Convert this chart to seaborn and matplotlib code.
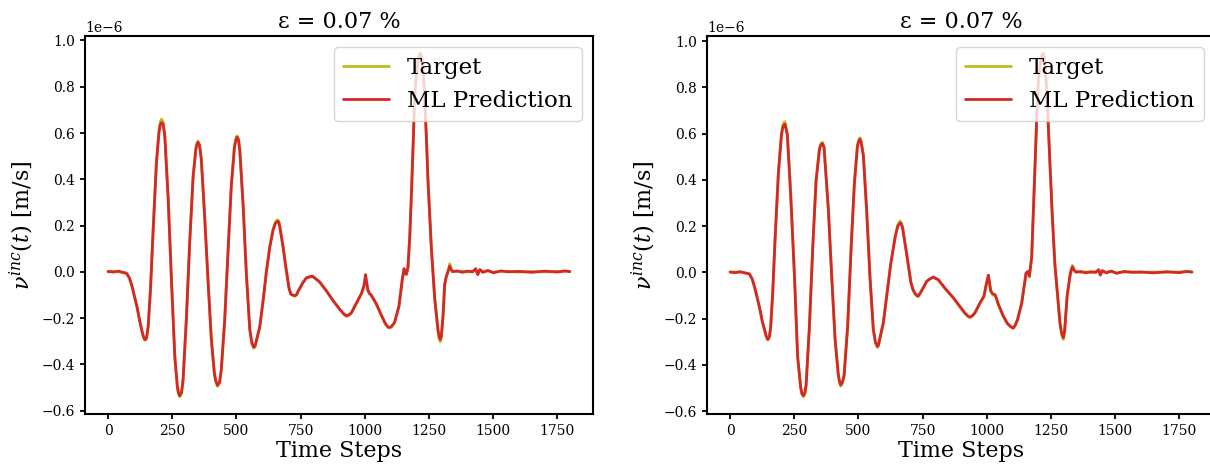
import numpy as np
import matplotlib
matplotlib.use("Agg")
import matplotlib.pyplot as plt
import seaborn as sns

# ---------------- data (values in units of 1e-6 m/s) ----------------
left_time = [0, 20, 40, 60, 72, 84, 94, 104, 114, 123, 133, 138, 143, 147, 150, 156, 165, 175, 188, 198, 203, 208, 214,
             221, 234, 247, 260, 270, 275, 279, 286, 292, 305, 318, 331, 342, 346, 350, 356, 363, 376, 389, 402, 414, 420, 426,
             434, 441, 454, 467, 480, 492, 497, 502, 508, 513, 526, 539, 552, 560, 567, 572, 578, 591, 604, 617, 630,
             643, 652, 659, 664, 668, 681, 694, 705, 712, 720, 727, 734, 740, 759, 772, 785, 795, 805, 824, 850,
             876, 902, 918, 928, 938, 948, 967, 987, 996, 1000, 1003, 1006, 1012, 1018, 1025, 1045, 1064, 1080, 1090, 1097,
             1104, 1116, 1133, 1146, 1153, 1157, 1162, 1168, 1175, 1181, 1188, 1194, 1201, 1208, 1214, 1218, 1222, 1228, 1233, 1240,
             1246, 1259, 1272, 1285, 1290, 1294, 1298, 1305, 1311, 1316, 1324, 1331, 1336, 1341, 1360, 1380, 1400, 1420, 1432, 1440,
             1448, 1460, 1480, 1500, 1530, 1560, 1600, 1650, 1700, 1750, 1780, 1799]
left_target = [0.000, 0.002, 0.000, -0.002, -0.008, -0.030, -0.065, -0.110, -0.160, -0.210, -0.262, -0.283, -0.295, -0.293, -0.285, -0.240, -0.080, 0.170, 0.470, 0.610, 0.648, 0.660, 0.650,
               0.590, 0.320, -0.040, -0.370, -0.500, -0.530, -0.540, -0.525, -0.470, -0.200, 0.130, 0.410, 0.535, 0.555, 0.565, 0.550, 0.490, 0.245, -0.030, -0.290, -0.440, -0.476, -0.495,
               -0.480, -0.425, -0.215, 0.085, 0.375, 0.540, 0.572, 0.588, 0.575, 0.530, 0.290, -0.015, -0.250, -0.310, -0.330, -0.325, -0.300, -0.240, -0.125, 0.005, 0.110,
               0.185, 0.215, 0.225, 0.222, 0.205, 0.115, 0.010, -0.070, -0.095, -0.102, -0.105, -0.098, -0.086, -0.045, -0.028, -0.020, -0.020, -0.025, -0.045, -0.080,
               -0.125, -0.160, -0.183, -0.192, -0.188, -0.178, -0.138, -0.095, -0.065, -0.040, -0.015, -0.040, -0.080, -0.092, -0.102, -0.140, -0.188, -0.225, -0.240, -0.242,
               -0.238, -0.220, -0.150, -0.035, 0.012, -0.005, -0.012, 0.020, 0.150, 0.320, 0.540, 0.750, 0.860, 0.920, 0.942, 0.945, 0.930, 0.860, 0.760, 0.580,
               0.400, 0.110, -0.110, -0.255, -0.290, -0.302, -0.285, -0.190, -0.060, -0.030, 0.000, 0.035, 0.015, 0.004, 0.001, 0.003, -0.001, 0.004, 0.010, -0.010,
               0.008, 0.002, 0.004, -0.002, 0.002, 0.003, -0.001, 0.002, 0.000, 0.002, 0.003, 0.002]
left_pred = [0.002, -0.001, 0.003, -0.003, -0.006, -0.028, -0.066, -0.112, -0.158, -0.212, -0.260, -0.281, -0.293, -0.291, -0.283, -0.238, -0.078, 0.168, 0.465, 0.600, 0.634, 0.645, 0.640,
             0.585, 0.318, -0.042, -0.368, -0.498, -0.526, -0.535, -0.522, -0.468, -0.202, 0.128, 0.408, 0.530, 0.550, 0.560, 0.548, 0.487, 0.243, -0.032, -0.288, -0.438, -0.472, -0.490,
             -0.478, -0.422, -0.212, 0.083, 0.372, 0.535, 0.566, 0.582, 0.570, 0.526, 0.287, -0.017, -0.248, -0.306, -0.325, -0.322, -0.295, -0.236, -0.122, 0.003, 0.108,
             0.182, 0.210, 0.218, 0.216, 0.200, 0.112, 0.008, -0.072, -0.097, -0.100, -0.103, -0.100, -0.084, -0.047, -0.026, -0.022, -0.018, -0.027, -0.043, -0.082,
             -0.123, -0.162, -0.181, -0.190, -0.186, -0.176, -0.136, -0.093, -0.063, -0.038, -0.012, -0.038, -0.078, -0.094, -0.100, -0.138, -0.186, -0.223, -0.238, -0.240,
             -0.236, -0.218, -0.148, -0.033, 0.014, -0.007, -0.010, 0.018, 0.148, 0.318, 0.538, 0.748, 0.858, 0.918, 0.940, 0.943, 0.928, 0.858, 0.758, 0.578,
             0.398, 0.108, -0.112, -0.250, -0.283, -0.292, -0.278, -0.186, -0.056, -0.026, 0.002, 0.025, 0.010, 0.001, 0.004, -0.002, 0.003, 0.000, 0.014, -0.012,
             0.010, -0.002, 0.006, -0.004, 0.004, 0.000, 0.002, -0.002, 0.003, -0.001, 0.004, 0.001]

right_time = [0, 20, 40, 60, 75, 86, 96, 106, 116, 125, 137, 142, 147, 153, 158, 166, 175, 188, 200, 205, 210, 214,
              223, 236, 251, 263, 275, 280, 286, 291, 296, 309, 322, 335, 348, 352, 356, 360, 366, 383, 396, 409, 421, 426, 431,
              437, 444, 458, 471, 484, 496, 501, 506, 510, 519, 532, 545, 558, 566, 574, 578, 584, 597, 610, 626, 643,
              653, 662, 667, 672, 688, 704, 712, 720, 727, 733, 740, 746, 766, 779, 792, 802, 811, 837, 870, 896,
              915, 928, 935, 945, 954, 974, 989, 997, 1003, 1006, 1009, 1015, 1020, 1025, 1032, 1037, 1045, 1064, 1080, 1095,
              1103, 1110, 1120, 1136, 1153, 1160, 1166, 1175, 1181, 1188, 1195, 1201, 1210, 1216, 1220, 1224, 1230, 1235, 1246, 1255,
              1265, 1285, 1292, 1298, 1303, 1313, 1324, 1329, 1334, 1340, 1347, 1365, 1385, 1405, 1425, 1436, 1442, 1450, 1465, 1485,
              1505, 1535, 1565, 1600, 1650, 1700, 1750, 1780, 1799]
right_target = [0.000, 0.002, 0.000, -0.002, -0.008, -0.030, -0.065, -0.110, -0.160, -0.208, -0.262, -0.282, -0.292, -0.280, -0.240, -0.090, 0.140, 0.430, 0.600, 0.635, 0.650, 0.652,
                0.600, 0.340, -0.020, -0.365, -0.500, -0.528, -0.538, -0.525, -0.490, -0.235, 0.110, 0.400, 0.535, 0.552, 0.560, 0.562, 0.545, 0.270, -0.020, -0.290, -0.440, -0.475, -0.492,
                -0.480, -0.450, -0.235, 0.095, 0.385, 0.550, 0.573, 0.582, 0.570, 0.510, 0.270, -0.020, -0.250, -0.305, -0.325, -0.318, -0.285, -0.220, -0.105, 0.040, 0.155,
                0.205, 0.222, 0.215, 0.196, 0.080, -0.040, -0.075, -0.092, -0.102, -0.105, -0.092, -0.078, -0.040, -0.026, -0.022, -0.025, -0.033, -0.070, -0.112, -0.150,
                -0.178, -0.192, -0.195, -0.188, -0.176, -0.133, -0.105, -0.060, -0.030, -0.014, -0.035, -0.082, -0.092, -0.098, -0.100, -0.112, -0.140, -0.190, -0.222, -0.238,
                -0.242, -0.232, -0.205, -0.134, -0.004, 0.002, -0.020, 0.067, 0.250, 0.470, 0.680, 0.830, 0.915, 0.945, 0.948, 0.930, 0.850, 0.757, 0.470, 0.250,
                0.040, -0.220, -0.270, -0.290, -0.260, -0.105, -0.019, 0.010, 0.030, 0.012, 0.004, 0.000, 0.003, -0.001, 0.004, 0.008, -0.010, 0.006, 0.001, 0.004,
                -0.002, 0.002, 0.003, -0.001, 0.002, 0.000, 0.002, 0.004, 0.003]
right_pred = [0.002, -0.001, 0.003, -0.003, -0.006, -0.028, -0.066, -0.112, -0.158, -0.210, -0.260, -0.280, -0.290, -0.278, -0.238, -0.088, 0.138, 0.426, 0.592, 0.625, 0.638, 0.640,
              0.594, 0.338, -0.022, -0.362, -0.497, -0.524, -0.533, -0.522, -0.488, -0.233, 0.108, 0.397, 0.530, 0.547, 0.555, 0.557, 0.540, 0.268, -0.022, -0.288, -0.436, -0.470, -0.486,
              -0.476, -0.446, -0.232, 0.093, 0.382, 0.545, 0.567, 0.576, 0.565, 0.506, 0.268, -0.022, -0.246, -0.300, -0.320, -0.314, -0.282, -0.217, -0.102, 0.038, 0.152,
              0.200, 0.214, 0.209, 0.192, 0.078, -0.042, -0.073, -0.090, -0.100, -0.102, -0.090, -0.080, -0.038, -0.028, -0.020, -0.027, -0.031, -0.068, -0.110, -0.148,
              -0.176, -0.190, -0.193, -0.186, -0.174, -0.131, -0.102, -0.056, -0.026, -0.012, -0.032, -0.078, -0.088, -0.094, -0.096, -0.110, -0.138, -0.188, -0.220, -0.236,
              -0.240, -0.230, -0.203, -0.132, -0.002, 0.004, -0.016, 0.069, 0.252, 0.472, 0.682, 0.832, 0.916, 0.943, 0.946, 0.928, 0.848, 0.755, 0.468, 0.248,
              0.038, -0.218, -0.265, -0.282, -0.255, -0.100, -0.014, 0.012, 0.024, 0.010, 0.001, 0.004, -0.002, 0.003, 0.000, 0.012, -0.012, 0.008, -0.002, 0.006,
              -0.004, 0.004, 0.000, 0.002, -0.002, 0.003, -0.001, 0.004, 0.001]

panels = [(left_time, left_target, left_pred), (right_time, right_target, right_pred)]
for t, a, b in panels:
    assert len(t) == len(a) == len(b), (len(t), len(a), len(b))

title_text = "ε = 0.07 %"
x_label = "Time Steps"
y_label = r"$\nu^{inc}(t)$ [m/s]"
x_ticks = [0, 250, 500, 750, 1000, 1250, 1500, 1750]

# ---------------- style ----------------
sns.set_style("ticks", {"axes.edgecolor": "black", "xtick.color": "black", "ytick.color": "black",
                        "text.color": "black", "axes.labelcolor": "black"})
plt.rcParams["font.family"] = ["DejaVu Serif"]
plt.rcParams["mathtext.fontset"] = "dejavuserif"
plt.rcParams.update({
    "axes.linewidth": 1.5,
    "xtick.major.width": 1.3, "ytick.major.width": 1.3,
    "xtick.major.size": 3.5, "ytick.major.size": 3.5,
    "xtick.labelsize": 10, "ytick.labelsize": 10,
})

fig = plt.figure(figsize=(12.1, 4.7), dpi=100)
W, H = 1210.0, 470.0
positions = [[85 / W, (H - 414) / H, 508 / W, 378 / H],
             [707 / W, (H - 414) / H, 508 / W, 378 / H]]

for pos, (t, tgt, prd) in zip(positions, panels):
    ax = fig.add_axes(pos)
    sns.lineplot(x=np.array(t), y=np.array(tgt) * 1e-6, color="#bcbd22", linewidth=2.0,
                 label="Target", ax=ax)
    sns.lineplot(x=np.array(t), y=np.array(prd) * 1e-6, color="#d62728", linewidth=2.0,
                 label="ML Prediction", ax=ax)
    ax.set_xticks(x_ticks)
    ax.set_title(title_text, fontsize=16)
    ax.set_xlabel(x_label, fontsize=16, labelpad=2)
    ax.set_ylabel(y_label, fontsize=16)
    ax.legend(loc="upper right", fontsize=16.5)

fig.savefig("out.png", dpi=100)
